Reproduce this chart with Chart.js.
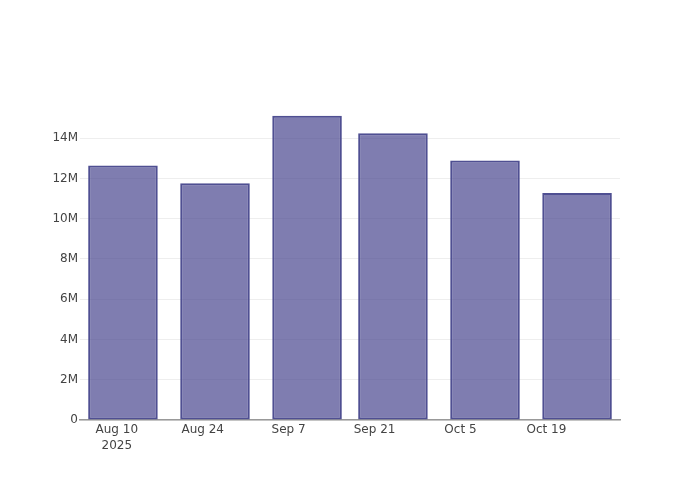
<!DOCTYPE html>
<html>
<head>
<meta charset="utf-8">
<script src="https://cdn.jsdelivr.net/npm/chart.js@4.4.1/dist/chart.umd.min.js"></script>
<style>
  html, body { margin: 0; padding: 0; background: #fff; }
  #wrap { width: 700px; height: 500px; }
</style>
</head>
<body>
<div id="wrap"><canvas id="barChart" width="700" height="500"></canvas></div>
<script>
// days counted from Aug 10 2025
const barDays = [1, 16, 31, 45, 60, 75];
const barValues = [12.64e6, 11.76e6, 15.12e6, 14.25e6, 12.89e6, 11.28e6];

const xTickDays = [0, 14, 28, 42, 56, 70];
const xTickLabels = [['Aug 10', '2025'], 'Aug 24', 'Sep 7', 'Sep 21', 'Oct 5', 'Oct 19'];

const yTickValues = [0, 2e6, 4e6, 6e6, 8e6, 10e6, 12e6, 14e6];
const yTickLabels = ['0', '2M', '4M', '6M', '8M', '10M', '12M', '14M'];

Chart.defaults.font.family = '"DejaVu Sans", sans-serif';
Chart.defaults.font.size = 12;
Chart.defaults.color = '#444';

const ctx = document.getElementById('barChart').getContext('2d');

new Chart(ctx, {
  type: 'bar',
  data: {
    datasets: [{
      data: barDays.map((d, i) => ({ x: d, y: barValues[i] })),
      backgroundColor: 'rgba(72, 70, 142, 0.7)',
      borderColor: 'rgba(70, 70, 140, 0.95)',
      borderWidth: 2,
      borderSkipped: false,
      barPercentage: 0.81,
      categoryPercentage: 1.0
    }]
  },
  options: {
    responsive: false,
    animation: false,
    layout: { padding: { left: 0, right: 80, top: 100, bottom: 0 } },
    plugins: {
      legend: { display: false },
      tooltip: { enabled: false }
    },
    scales: {
      x: {
        type: 'linear',
        min: -6,
        max: 82,
        offset: false,
        grid: { display: false, drawTicks: false },
        border: { display: true, color: '#999', width: 1.5 },
        ticks: {
          padding: 2.5,
          maxRotation: 0,
          autoSkip: false,
          font: { lineHeight: 1.3 },
          callback: function (value) {
            const idx = xTickDays.indexOf(value);
            return idx >= 0 ? xTickLabels[idx] : '';
          }
        },
        afterBuildTicks: function (scale) {
          scale.ticks = xTickDays.map(v => ({ value: v }));
        },
        afterFit: function (scale) { scale.height = 80; }
      },
      y: {
        min: 0,
        max: 15.9e6,
        grid: { color: '#eee', lineWidth: 1, drawTicks: false },
        border: { display: false },
        ticks: {
          padding: 2,
          callback: function (value) {
            const idx = yTickValues.indexOf(value);
            return idx >= 0 ? yTickLabels[idx] : '';
          }
        },
        afterBuildTicks: function (scale) {
          scale.ticks = yTickValues.map(v => ({ value: v }));
        },
        afterFit: function (scale) { scale.width = 80; }
      }
    }
  }
});
</script>
</body>
</html>
